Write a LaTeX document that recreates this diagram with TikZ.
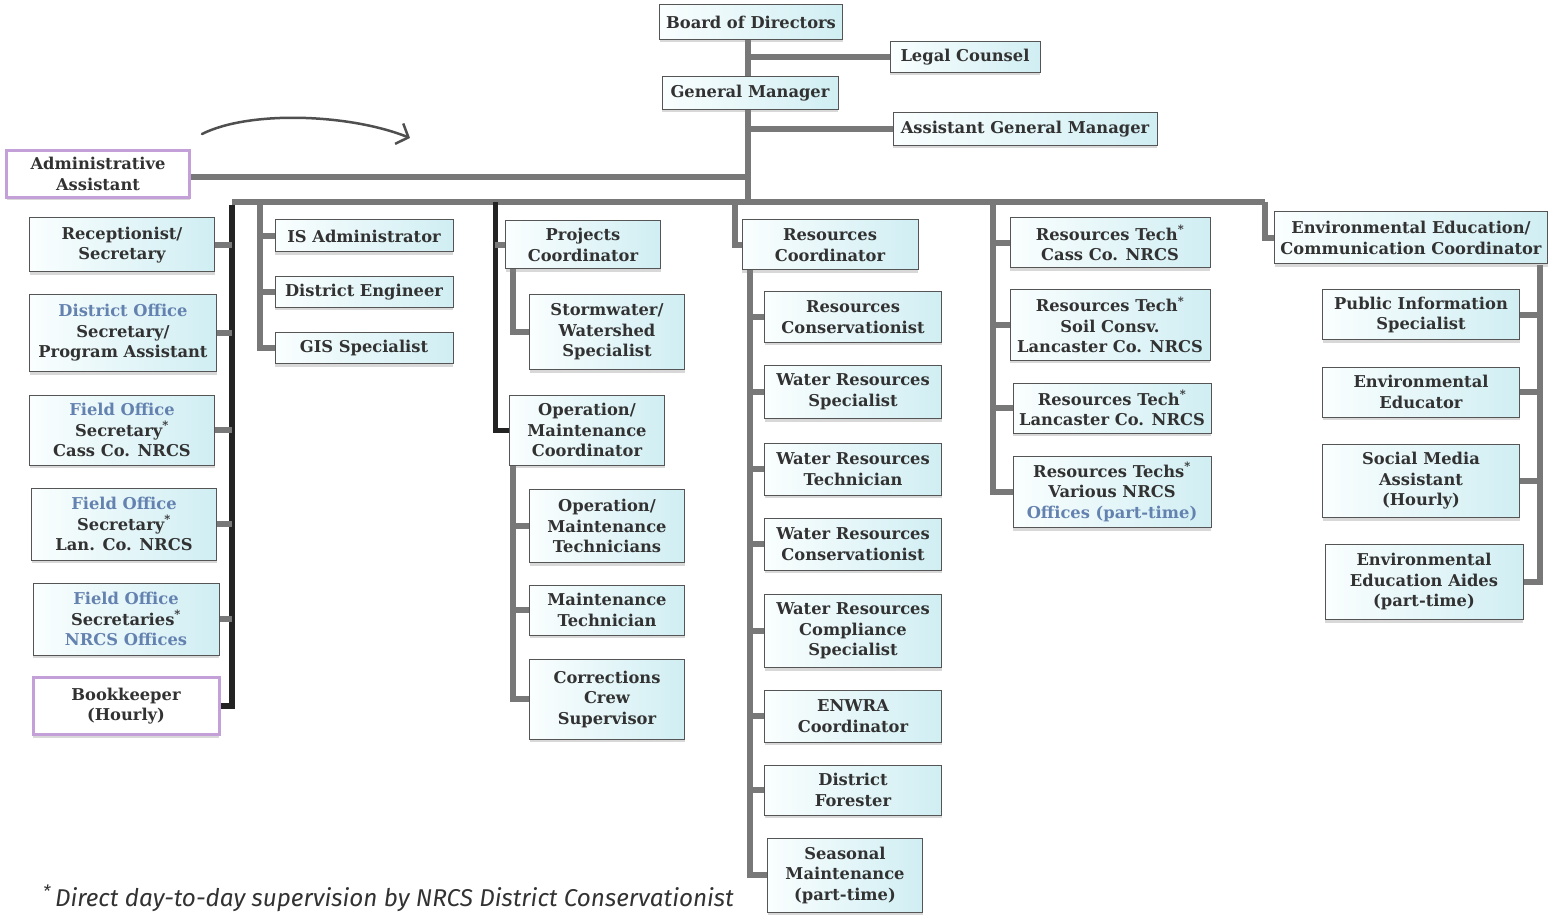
\documentclass[tikz,border=0pt]{standalone}
\usepackage{fontspec}
\setmainfont{DejaVu Serif}
\newfontfamily\notefont{Fira Sans}
\usetikzlibrary{arrows.meta,shadows}
\pgfdeclarelayer{paper}
\pgfdeclarelayer{background}
\pgfsetlayers{paper,background,main}
\definecolor{txt}{RGB}{50,50,50}
\definecolor{bl}{RGB}{100,130,175}
\definecolor{bord}{RGB}{85,85,85}
\definecolor{cfill}{RGB}{208,238,243}
\definecolor{lfill}{RGB}{250,254,254}
\definecolor{purp}{RGB}{195,160,215}
\definecolor{conncol}{RGB}{120,120,120}
\definecolor{darkcol}{RGB}{35,35,35}
\begin{document}
\begin{tikzpicture}[x=1pt,y=-1pt,
  bx/.style={draw=bord, line width=1pt, left color=lfill, right color=cfill, text=txt,
    font=\bfseries\fontsize{16.3}{20.5}\selectfont, align=center, inner sep=2pt,
    drop shadow={shadow xshift=0pt, shadow yshift=-3pt, opacity=0.3}},
  pbx/.style={bx, draw=purp, line width=3pt, left color=white, right color=white},
  bw/.style={minimum width=#1pt},
  bh/.style={minimum height=#1pt},
  ln/.style={draw=conncol, line width=5.5pt, line join=miter},
  dk/.style={draw=darkcol, line width=6pt, line join=miter}]
\useasboundingbox (0,0) rectangle (1553,917);
\begin{pgfonlayer}{paper}
\fill[white] (0,0) rectangle (1553,917);
\end{pgfonlayer}

% top
\node[bx,bw=183,bh=35] (board) at (751,22) {Board of Directors};
\node[bx,bw=150,bh=31] (legal) at (965,57) {Legal Counsel};
\node[bx,bw=176,bh=33] (gm) at (750,93) {General Manager};
\node[bx,bw=264,bh=33] (agm) at (1025,129) {Assistant General Manager};
\node[pbx,bw=183,bh=47] (admin) at (98,174) {Administrative\\Assistant};

% left column
\node[bx,bw=185,bh=54] (recep) at (122,245) {Receptionist/\\Secretary};
\node[bx,bw=187,bh=77] (dos) at (123,333) {{\color{bl}District Office}\\Secretary/\\Program Assistant};
\node[bx,bw=185,bh=70] (fcass) at (122,430) {{\color{bl}Field Office}\\Secretary\textsuperscript{*}\\Cass Co. NRCS};
\node[bx,bw=185,bh=72] (flan) at (124,524) {{\color{bl}Field Office}\\Secretary\textsuperscript{*}\\Lan. Co. NRCS};
\node[bx,bw=186,bh=72] (fsecs) at (126,619) {{\color{bl}Field Office}\\Secretaries\textsuperscript{*}\\{\color{bl}NRCS Offices}};
\node[pbx,bw=186,bh=57] (book) at (126,706) {Bookkeeper\\(Hourly)};

% IS group
\node[bx,bw=178,bh=32] (is) at (364,236) {IS Administrator};
\node[bx,bw=178,bh=31] (eng) at (364,292) {District Engineer};
\node[bx,bw=178,bh=31] (gis) at (364,348) {GIS Specialist};

% projects group
\node[bx,bw=155,bh=48] (proj) at (583,245) {Projects\\Coordinator};
\node[bx,bw=155,bh=75] (storm) at (607,332) {Stormwater/\\Watershed\\Specialist};
\node[bx,bw=155,bh=70] (omc) at (587,430) {Operation/\\Maintenance\\Coordinator};
\node[bx,bw=155,bh=73] (omt) at (607,526) {Operation/\\Maintenance\\Technicians};
\node[bx,bw=155,bh=50] (mt) at (607,610) {Maintenance\\Technician};
\node[bx,bw=155,bh=80] (ccs) at (607,699) {Corrections\\Crew\\Supervisor};

% resources group
\node[bx,bw=176,bh=50] (rc) at (830,245) {Resources\\Coordinator};
\node[bx,bw=177,bh=51] (rcons) at (853,317) {Resources\\Conservationist};
\node[bx,bw=177,bh=53] (wrs) at (853,392) {Water Resources\\Specialist};
\node[bx,bw=177,bh=52] (wrt) at (853,469) {Water Resources\\Technician};
\node[bx,bw=177,bh=52] (wrc) at (853,544) {Water Resources\\Conservationist};
\node[bx,bw=177,bh=73] (wrcs) at (853,631) {Water Resources\\Compliance\\Specialist};
\node[bx,bw=177,bh=52] (enwra) at (853,716) {ENWRA\\Coordinator};
\node[bx,bw=177,bh=50] (forest) at (853,790) {District\\Forester};
\node[bx,bw=155,bh=74] (seas) at (845,875) {Seasonal\\Maintenance\\(part-time)};

% resources tech group
\node[bx,bw=200,bh=50] (rt1) at (1110,243) {Resources Tech\textsuperscript{*}\\Cass Co. NRCS};
\node[bx,bw=200,bh=70] (rt2) at (1110,325) {Resources Tech\textsuperscript{*}\\Soil Consv.\\Lancaster Co. NRCS};
\node[bx,bw=198,bh=50] (rt3) at (1112,408) {Resources Tech\textsuperscript{*}\\Lancaster Co. NRCS};
\node[bx,bw=198,bh=71] (rt4) at (1112,492) {Resources Techs\textsuperscript{*}\\Various NRCS\\{\color{bl}Offices (part-time)}};

% env ed group
\node[bx,bw=273,bh=52] (env) at (1411,238) {Environmental Education/\\Communication Coordinator};
\node[bx,bw=197,bh=50] (pis) at (1421,315) {Public Information\\Specialist};
\node[bx,bw=197,bh=50] (ee) at (1421,392) {Environmental\\Educator};
\node[bx,bw=197,bh=73] (sma) at (1421,481) {Social Media\\Assistant\\(Hourly)};
\node[bx,bw=198,bh=75] (aides) at (1424,582) {Environmental\\Education Aides\\(part-time)};

% footnote
\node[font=\notefont\itshape\fontsize{24.3}{27}\selectfont, text=txt, anchor=west, inner sep=0pt] (note) at (43,898)
  {\textsuperscript{*}\,Direct day-to-day supervision by NRCS District Conservationist};

% coordinates
\coordinate (trunk) at (748,202);
\coordinate (barL) at (232,202);
\coordinate (barR) at (1265,202);
\coordinate (isx) at (260,202);
\coordinate (prx) at (495,202);
\coordinate (pv) at (513,268);
\coordinate (ov) at (513,465);
\coordinate (rcx) at (735,202);
\coordinate (rv) at (750,270);
\coordinate (rtx) at (993,202);
\coordinate (ev) at (1540,265);
\coordinate (arrS) at (202,134);
\coordinate (arrE) at (410,138);

\begin{pgfonlayer}{background}
% trunk
\draw[ln, line width=6.5pt] (board.south -| trunk) -- (trunk);
\draw[ln] (legal.west -| trunk) -- (legal.west);
\draw[ln] (agm.west -| trunk) -- (agm.west);
\draw[ln] ([yshift=-3pt]admin.east) -- ([yshift=-3pt]admin.east -| trunk);
\draw[ln] (barL) -- (barR);
% left column
\draw[dk] ([yshift=-3pt]barL) -- (barL |- book.east) -- (book.east);
\foreach \n in {recep,dos,fcass,flan,fsecs} \draw[ln] (\n.east) -- (\n.east -| barL);
% IS
\draw[ln] (isx) -- (isx |- gis.west) -- (gis.west);
\foreach \n in {is,eng} \draw[ln] (\n.west -| isx) -- (\n.west);
% projects
\draw[dk, line width=5pt] (prx) -- (prx |- omc.west) -- (omc.west);
\draw[ln] (proj.west -| prx) -- (proj.west);
\draw[ln] (pv) -- (pv |- storm.west) -- (storm.west);
\draw[ln] (ov) -- (ov |- ccs.west) -- (ccs.west);
\foreach \n in {omt,mt} \draw[ln] (\n.west -| ov) -- (\n.west);
% resources
\draw[ln] (rcx) -- (rcx |- rc.west) -- (rc.west);
\draw[ln] (rv) -- (rv |- seas.west) -- (seas.west);
\foreach \n in {rcons,wrs,wrt,wrc,wrcs,enwra,forest} \draw[ln] (\n.west -| rv) -- (\n.west);
% resources tech
\draw[ln] (rtx) -- (rtx |- rt4.west) -- (rt4.west);
\foreach \n in {rt1,rt2,rt3} \draw[ln] (\n.west -| rtx) -- (\n.west);
% env ed
\draw[ln] (barR) -- (barR |- env.west) -- (env.west);
\draw[ln] (ev) -- (ev |- aides.east) -- (aides.east);
\foreach \n in {pis,ee,sma} \draw[ln] (\n.east) -- (\n.east -| ev);
\end{pgfonlayer}

% curved arrow
\draw[darkcol!80, line width=2.5pt, line cap=round, -{Straight Barb[length=10pt,width=22pt]}]
  (arrS) .. controls (250,110) and (350,114) .. (arrE);
\end{tikzpicture}
\end{document}
